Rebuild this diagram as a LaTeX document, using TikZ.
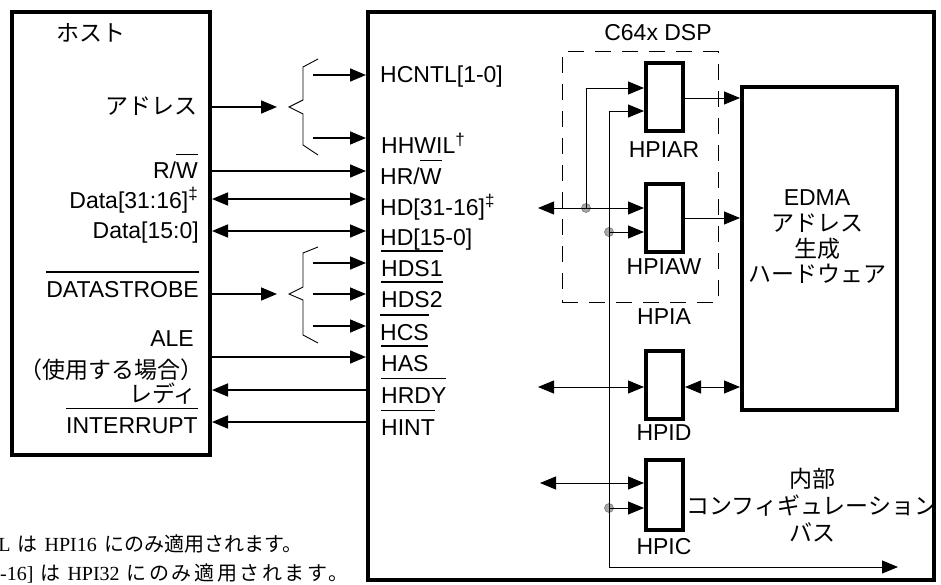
\documentclass[tikz,border=0pt]{standalone}
\usepackage{fontspec}
\setmainfont{Liberation Sans}
\newfontfamily\jpfont{Noto Sans CJK JP}
\newfontfamily\jpwide{Noto Sans CJK JP}[LetterSpace=13]
\newfontfamily\notefont{Liberation Serif}
\usetikzlibrary{arrows.meta,positioning}
\definecolor{HPInk}{HTML}{000000}
\definecolor{HPJoint}{HTML}{A8A8A8}
\definecolor{HPJointEdge}{HTML}{7A7A7A}
\newcommand\ovl[1]{\setbox0=\hbox{#1}\rlap{\rule[\dimexpr\ht0+8pt\relax]{\wd0}{1.5pt}}\box0}
\newcommand\fnmk[1]{\raisebox{.36em}{\fontsize{17}{17}\selectfont #1}}
\tikzset{
  sig/.style={-{Triangle[length=16pt,width=13pt]},HPInk,line width=1.6pt},
  sigin/.style={{Triangle[length=16pt,width=13pt]}-,HPInk,line width=1.6pt},
  sigboth/.style={{Triangle[length=16pt,width=13pt]}-{Triangle[length=16pt,width=13pt]},HPInk,line width=1.6pt},
  wire/.style={-{Triangle[length=16pt,width=13pt]},HPInk,line width=0.9pt},
  wireboth/.style={{Triangle[length=16pt,width=13pt]}-{Triangle[length=16pt,width=13pt]},HPInk,line width=0.9pt},
  brace/.style={HPInk,line width=0.9pt},
  chip/.style={draw=HPInk,line width=4pt,inner sep=0},
  reg/.style={chip,minimum width=37pt,minimum height=68pt},
  group/.style={draw=HPInk,line width=1pt,dash pattern=on 16pt off 11pt,inner sep=0},
  joint/.style={circle,fill=HPJoint,draw=HPJointEdge,line width=0.6pt,inner sep=0,minimum size=9pt},
  pin/.style={text=HPInk,font=\fontsize{23}{27}\selectfont,inner sep=0},
  jlabel/.style={text=HPInk,font=\fontsize{23}{27}\selectfont\jpfont,inner sep=0},
  note/.style={text=HPInk,font=\fontsize{20}{24}\selectfont\notefont,inner sep=0},
}

\begin{document}
\begin{tikzpicture}[x=1pt,y=-1pt]
  \useasboundingbox (0,0) rectangle (941,585);

  % host side
  \node[chip,minimum width=198pt,minimum height=443pt] (host) at (111,233.5) {};
  \node[jlabel,anchor=base] (hosttitle) at (91,42) {ホスト};
  \node[jlabel,anchor=base east] (lAddr) at (198,115) {アドレス};
  \node[pin,anchor=base east] (lRW) at (198,179) {R/\ovl{W}};
  \node[pin,anchor=base east] (lDataH) at (198,208) {Data[31:16]\fnmk{‡}};
  \node[pin,anchor=base east] (lDataL) at (199,238) {Data[15:0]};
  \node[pin,anchor=base east] (lStrobe) at (199,297) {\ovl{DATASTROBE}};
  \node[pin,anchor=base east] (lAle) at (194,346) {ALE};
  \node[jlabel,anchor=base east] (lAleUse) at (204,378) {（使用する場合）};
  \node[jlabel,anchor=base east] (lReady) at (197,402) {レディ};
  \node[pin,anchor=base east] (lIntr) at (198,433) {\ovl{INTERRUPT}};

  % DSP outline and pins
  \node[chip,minimum width=566pt,minimum height=568pt] (dsp) at (651,296) {};
  \node[pin,anchor=base west] (pCntl) at (380,83) {HCNTL[1-0]};
  \node[pin,anchor=base west] (pHhwil) at (381,154) {HHWIL\fnmk{†}};
  \node[pin,anchor=base west] (pRW) at (380,185) {HR/\ovl{W}};
  \node[pin,anchor=base west] (pDataH) at (380,215) {HD[31-16]\fnmk{‡}};
  \node[pin,anchor=base west] (pDataL) at (380,245) {HD[15-0]};
  \node[pin,anchor=base west] (pDs1) at (381,276) {\ovl{HDS1}};
  \node[pin,anchor=base west] (pDs2) at (381,307) {\ovl{HDS2}};
  \node[pin,anchor=base west] (pCs) at (380,340) {\ovl{HCS}};
  \node[pin,anchor=base west] (pAs) at (381,371) {\ovl{HAS}};
  \node[pin,anchor=base west] (pRdy) at (381,403) {\ovl{HRDY}};
  \node[pin,anchor=base west] (pInt) at (381,435) {\ovl{HINT}};

  % braces
  \draw[brace] (318,59) -- (303,67) -- (303,100) -- (289,107) coordinate (addrtip)
    -- (303,114) -- (303,145) -- (318,155);
  \draw[brace] (318,247) -- (303,253) -- (303,287) -- (289,294) coordinate (strobetip)
    -- (303,300) -- (303,335) -- (318,343);
  \coordinate (cCntl) at (313,75);
  \coordinate (cHhwil) at (313,138);
  \coordinate (cDs1) at (313,263);
  \coordinate (cDs2) at (313,294);
  \coordinate (cCs) at (313,326);

  \draw[sig] (host.east |- addrtip) -- ([xshift=-12pt]addrtip);
  \draw[sig] (host.east |- strobetip) -- ([xshift=-12pt]strobetip);
  \draw[sig] (cCntl) -- (dsp.west |- cCntl);
  \draw[sig] (cHhwil) -- (dsp.west |- cHhwil);
  \draw[sig] (cDs1) -- (dsp.west |- cDs1);
  \draw[sig] (cDs2) -- (dsp.west |- cDs2);
  \draw[sig] (cCs) -- (dsp.west |- cCs);
  \draw[sig] (host.east |- 0,171) -- (dsp.west |- 0,171);
  \draw[sigboth] (host.east |- 0,199) -- (dsp.west |- 0,199);
  \draw[sigboth] (host.east |- 0,231) -- (dsp.west |- 0,231);
  \draw[sig] (host.east |- 0,357) -- (dsp.west |- 0,357);
  \draw[sigin] (host.east |- 0,390) -- (dsp.west |- 0,390);
  \draw[sigin] (host.east |- 0,422) -- (dsp.west |- 0,422);

  % inside the DSP
  \node[pin] (dsptitle) at (658,33) {C64x DSP};
  \node[group,minimum width=156pt,minimum height=250pt] (hpia) at (640,177) {};
  \node[pin] (hpialbl) at (664,317) {HPIA};
  \node[reg] (hpiar) at (664.5,97) {};
  \node[pin] (hpiarlbl) at (664,150) {HPIAR};
  \node[reg] (hpiaw) at (664.5,218) {};
  \node[pin] (hpiawlbl) at (664,267) {HPIAW};
  \node[reg] (hpid) at (664.5,385) {};
  \node[pin] (hpidlbl) at (664,433) {HPID};
  \node[reg,minimum height=70pt] (hpic) at (664.5,494.5) {};
  \node[pin] (hpiclbl) at (664,547) {HPIC};

  \node[chip,minimum width=155pt,minimum height=323pt] (edma) at (819.5,248.5) {};
  \node[pin,align=center,font=\fontsize{23}{25.7}\selectfont] (edmalbl) at (817,237)
    {EDMA\\{\jpfont アドレス}\\{\jpfont 生成}\\{\jpfont ハードウェア}};
  \node[jlabel,align=center] (buslbl) at (812,505) {内部\\コンフィギュレーション\\バス};

  \node[joint] (jA) at (586,208) {};
  \node[joint] (jB) at (609,232) {};
  \node[joint] (jC) at (609,508) {};
  \coordinate (hdout) at (538,208);
  \coordinate (hdout2) at (538,387);
  \coordinate (hcout) at (540,483);
  \coordinate (busturn) at (609,567);
  \coordinate (busend) at (898,567);

  \draw[wire] (jA.center) |- (hpiar.west |- 0,88);
  \draw[wireboth] (hpiar.west |- 0,111) -| (busturn) -- (busend);
  \draw[wireboth] (hdout) -- (hpiaw.west |- hdout);
  \draw[wire] (jB.center) -- (hpiaw.west |- jB);
  \draw[wire] (hpiar.east |- 0,98) -- (edma.west |- 0,98);
  \draw[wire] (hpiaw.east) -- (edma.west |- hpiaw.east);
  \draw[wireboth] (hdout2) -- (hpid.west |- hdout2);
  \draw[wireboth] (hpid.east |- hdout2) -- (edma.west |- hdout2);
  \draw[wireboth] (hcout) -- (hpic.west |- hcout);
  \draw[wire] (jC.center) -- (hpic.west |- jC);

  % footnotes
  \node[note,anchor=base east] (note1) at (303,551) {L\hspace{2pt} {\jpfont は}\hspace{2pt} HPI16\hspace{3pt} {\jpfont にのみ適用されます。}};
  \node[note,anchor=base west] (note2) at (0,580) {-16]\hspace{2pt} {\jpfont は}\hspace{2pt} HPI32\hspace{2pt} {\jpwide にのみ適用されます。}};
\end{tikzpicture}
\end{document}
